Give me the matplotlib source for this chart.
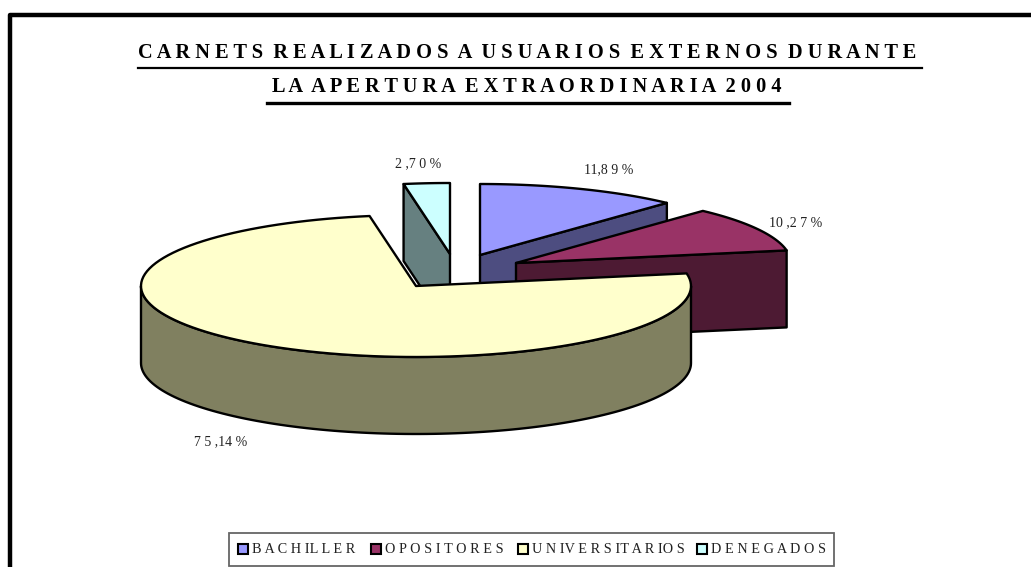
import numpy as np
import matplotlib
matplotlib.use("Agg")
import matplotlib.pyplot as plt
from matplotlib.patches import Polygon, Rectangle

categories = ["BACHILLER", "OPOSITORES", "UNIVERSITARIOS", "DENEGADOS"]
values = [11.89, 10.27, 75.14, 2.70]
value_labels = ["11,8 9 %", "10 ,2 7 %", "7 5 ,14 %", "2 ,7 0 %"]
top_colors = ["#9999ff", "#993366", "#ffffcc", "#ccffff"]
side_colors = ["#4d4d80", "#4d1a33", "#808060", "#668080"]
title_lines = ["C A R N E T S  R E A L I Z A D O S  A  U S U A R I O S  E X T E R N O S  D U R A N T E",
               "L A  A P E R T U R A  E X T R A O R D I N A R I A  2 0 0 4"]
legend_labels = ["B A C H IL L E R", "O P O S I T O R E S", "U N IV E R S IT A R IO S", "D E N E G A D O S"]

# exploded slice centres, in pixels
CENTERS = [(480, 255), (516, 263), (416, 286), (450, 254)]
RX, RY, DEPTH = 275, 71, 77
SERIF = "Liberation Serif"

W, H = 1031, 567
fig = plt.figure(figsize=(W / 100, H / 100), dpi=100)
ax = fig.add_axes([0, 0, 1, 1])
ax.set_xlim(0, W)
ax.set_ylim(H, 0)
ax.axis("off")


def rim(center, t0, t1):
    t = np.radians(np.linspace(t0, t1, 120))
    return np.column_stack([center[0] + RX * np.sin(t), center[1] - RY * np.cos(t)])


edges = np.concatenate([[0], np.cumsum(values) / np.sum(values) * 360])

# back to front: denegados, bachiller, opositores, universitarios
for i in [3, 0, 1, 2]:
    c = np.array(CENTERS[i], dtype=float)
    t0, t1 = edges[i], edges[i + 1]
    arc = rim(c, t0, t1)
    down = np.array([0, DEPTH])
    if i == 2:
        # outer wall, lower half of the ellipse
        low = rim(c, 90, 270)
        side = np.vstack([low, (low + down)[::-1]])
    elif i == 3:
        # cut face on the start side of the slice
        side = np.vstack([arc[0], c, c + down, arc[0] + down])
    else:
        # cut face on the end side of the slice
        side = np.vstack([c, arc[-1], arc[-1] + down, c + down])
    ax.add_patch(Polygon(side, closed=True, fc=side_colors[i], ec="black", lw=1.7, joinstyle="round"))
    ax.add_patch(Polygon(np.vstack([c, arc]), closed=True, fc=top_colors[i], ec="black", lw=1.7, joinstyle="round"))

# outer frame, runs off the bottom and right of the image
ax.plot([10, 10, W + 5], [H + 5, 15, 15], color="black", lw=3.2, solid_joinstyle="round")

# title and underlines
ax.text(527, 53, title_lines[0], family=SERIF, weight="bold", fontsize=14.7, ha="center", va="center")
ax.text(527, 87, title_lines[1], family=SERIF, weight="bold", fontsize=14.7, ha="center", va="center")
ax.plot([138, 922], [68, 68], color="black", lw=1.6)
ax.plot([267, 789], [102.5, 102.5], color="black", lw=2.4)

# data labels
label_pos = [(609, 170), (796, 223), (221, 442), (418, 164)]
for txt, (x, y) in zip(value_labels, label_pos):
    ax.text(x, y, txt, family=SERIF, fontsize=10, ha="center", va="center", color="#222222")

# legend
ax.add_patch(Rectangle((229, 533), 605, 33, fc="white", ec="#666666", lw=1.3))
swatch_x = [238, 371, 518, 697]
for x, txt, col in zip(swatch_x, legend_labels, top_colors):
    ax.add_patch(Rectangle((x, 544), 10, 10, fc=col, ec="black", lw=1.5))
    ax.text(x + 14, 549.5, txt, family=SERIF, fontsize=10.3, ha="left", va="center", color="#222222")

fig.savefig("out.png", dpi=100)
